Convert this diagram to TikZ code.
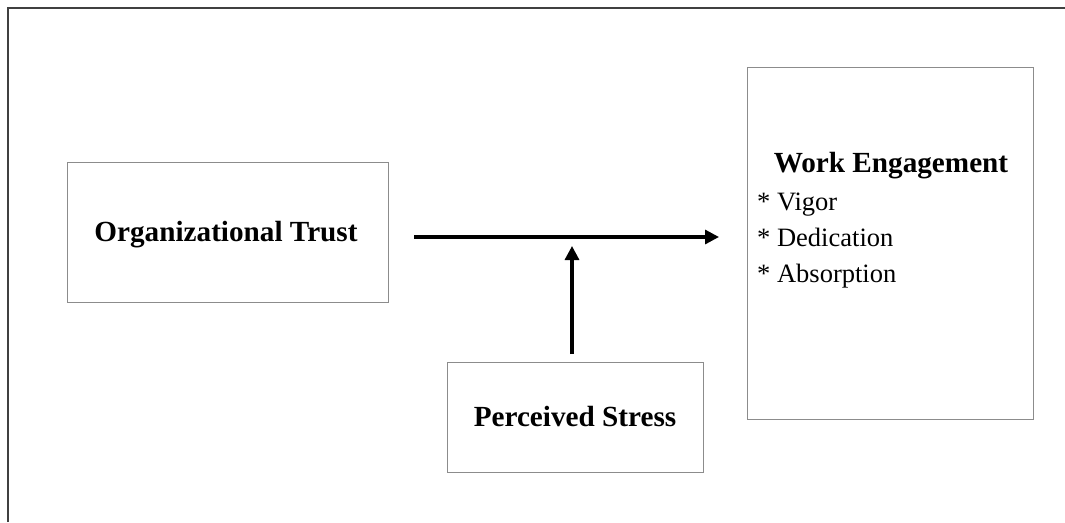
\documentclass[tikz,border=0pt]{standalone}
\usepackage{fontspec}
\setmainfont{Liberation Serif}
\usetikzlibrary{arrows.meta}
\begin{document}
\begin{tikzpicture}[x=1pt,y=-1pt,
  boxstyle/.style={draw=black!45,line width=0.9pt,inner sep=0pt},
  titletext/.style={font=\fontsize{29.2}{34}\selectfont\bfseries,anchor=base,inner sep=0pt},
  itemtext/.style={font=\fontsize{26.5}{32}\selectfont,anchor=base west,inner sep=0pt},
  arrowline/.style={line width=3.2pt,-{Triangle[length=14pt,width=14pt]}},
  framestyle/.style={draw=black!75,line width=2pt}]
\useasboundingbox (0,0) rectangle (1065,522);
% partial frame
\coordinate (ftl) at (8,8);
\coordinate (ftr) at (1065,8);
\coordinate (fbl) at (8,522);
\draw[framestyle] (fbl) -- (ftl) -- (ftr);
% boxes
\node[boxstyle,minimum width=321pt,minimum height=140pt] (ot) at (227.5,232) {};
\node[boxstyle,minimum width=286pt,minimum height=352pt] (we) at (890,243) {};
\node[boxstyle,minimum width=256pt,minimum height=110pt] (ps) at (575,417) {};
% texts
\node[titletext] (ottext) at (226,241) {Organizational Trust};
\node[titletext] (pstext) at (575,426) {Perceived Stress};
\node[titletext] (wetext) at (891,172) {Work Engagement};
\node[itemtext] (we1) at (757,210) {* Vigor};
\node[itemtext] (we2) at (757,246) {* Dedication};
\node[itemtext] (we3) at (757,282) {* Absorption};
% arrows
\coordinate (hs) at (414,237);
\coordinate (he) at (719,237);
\coordinate (vs) at (572,354);
\coordinate (ve) at (572,246);
\draw[arrowline] (hs) -- (he);
\draw[arrowline] (vs) -- (ve);
\end{tikzpicture}
\end{document}
